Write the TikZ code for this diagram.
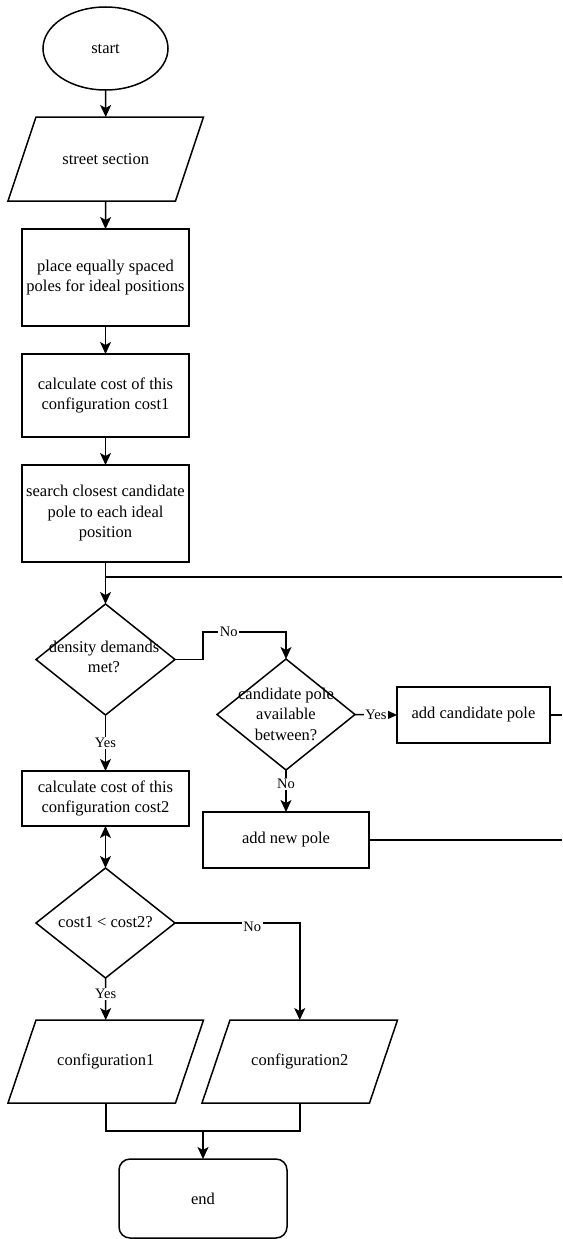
\documentclass[tikz,border=0pt]{standalone}
\usepackage{fontspec}
\setmainfont{Liberation Serif}
\usetikzlibrary{shapes.geometric,arrows.meta}
\begin{document}
\begin{tikzpicture}[x=1pt,y=-1pt,
  every node/.style={font=\fontsize{16.5}{20.5}\selectfont, inner sep=0pt, outer sep=0pt},
  box/.style={draw, line width=1.5pt, minimum width=167pt, align=center},
  pgram/.style={minimum width=139.5pt, align=center},
  dia/.style={draw, diamond, line width=1.5pt, minimum width=139pt, minimum height=111pt},
  txt/.style={align=center},
  lbl/.style={fill=white, font=\fontsize{14.5}{16}\selectfont, inner sep=1.5pt},
  arr/.style={line width=1.5pt, -{Stealth[length=12pt,width=11pt,inset=3pt]}},
  darr/.style={line width=1.5pt, {Stealth[length=12pt,width=11pt,inset=3pt]}-{Stealth[length=12pt,width=11pt,inset=3pt]}},
  ln/.style={line width=1.5pt},
  outline/.style={draw, line width=1.5pt, line join=miter}
]
\fill[white] (0,0) rectangle (562,1239);
\useasboundingbox (0,0) rectangle (562,1239);

% nodes
\node[ellipse, draw, line width=1.5pt, minimum width=125pt, minimum height=83pt] (start) at (105.5,48.5) {start};
\node[pgram, minimum height=84pt] (street) at (105.75,159) {street section};
\draw[outline] (street.north west) -- ([xshift=28pt]street.north east) -- (street.south east) -- ([xshift=-28pt]street.south west) -- cycle;
\node[box, minimum height=97pt] (place) at (105.5,277.5) {place equally spaced\\poles for ideal positions};
\node[box, minimum height=83pt] (costA) at (105.5,395.5) {calculate cost of this\\configuration cost1};
\node[box, minimum height=97pt] (search) at (105.5,513.5) {search closest candidate\\pole to each ideal\\position};
\coordinate (split) at (105.5,577);
\coordinate (loopA) at (562,577);
\node[dia] (dens) at (105.5,659.5) {};
\node[txt] (densT) at (104,657) {density demands\\met?};
\node[dia, minimum width=138pt] (cand) at (286,714.5) {};
\node[txt] (candT) at (286,714) {candidate pole\\available\\between?};
\node[box, minimum width=153pt, minimum height=56pt] (addc) at (473.5,715) {add candidate pole};
\coordinate (loopB) at (562,715);
\node[box, minimum height=55pt] (costB) at (105.5,798.5) {calculate cost of this\\configuration cost2};
\node[box, minimum width=166pt, minimum height=56pt] (newp) at (286,840) {add new pole};
\coordinate (loopC) at (562,840);
\node[dia, minimum height=110pt] (cmp) at (105.5,923) {};
\node[txt] (cmpT) at (105.5,922) {cost1 < cost2?};
\node[pgram, minimum height=83pt] (confA) at (105.75,1061.5) {configuration1};
\draw[outline] (confA.north west) -- ([xshift=28pt]confA.north east) -- (confA.south east) -- ([xshift=-28pt]confA.south west) -- cycle;
\node[pgram, minimum height=83pt] (confB) at (299.75,1061.5) {configuration2};
\draw[outline] (confB.north west) -- ([xshift=28pt]confB.north east) -- (confB.south east) -- ([xshift=-28pt]confB.south west) -- cycle;
\coordinate (join) at (203,1131);
\node[draw, line width=1.5pt, rounded corners=11pt, minimum width=168pt, minimum height=79pt] (end) at (203,1198.5) {end};

% connectors
\draw[arr] (start.south) -- (street.north);
\draw[arr] (street.south) -- (place.north);
\draw[arr] (place.south) -- (costA.north);
\draw[arr] (costA.south) -- (search.north);
\draw[arr] (search.south) -- (dens.north);
\draw[ln] (split) -- (loopA);
\draw[arr] (dens.east) -- (203,659.5) -- (203,632) -- node[lbl,pos=0.31] (noA) {No} (286,632) -- (cand.north);
\draw[arr] (cand.east) -- node[lbl] (yesB) {Yes} (addc.west);
\draw[ln] (addc.east) -- (loopB);
\draw[arr] (dens.south) -- node[lbl] (yesA) {Yes} (costB.north);
\draw[arr] (cand.south) -- node[lbl,pos=0.33] (noB) {No} (newp.north);
\draw[ln] (newp.east) -- (loopC);
\draw[darr] (costB.south) -- (cmp.north);
\draw[arr] (cmp.east) -- node[lbl,pos=0.62,yshift=-4pt] (noC) {No} (cmp.east -| confB.north) -- (confB.north);
\draw[arr] (cmp.south) -- node[lbl,pos=0.38] (yesC) {Yes} (confA.north);
\draw[ln] (confA.south) |- (join);
\draw[ln] (confB.south) |- (join);
\draw[arr] (join) -- (end.north);
\end{tikzpicture}
\end{document}
